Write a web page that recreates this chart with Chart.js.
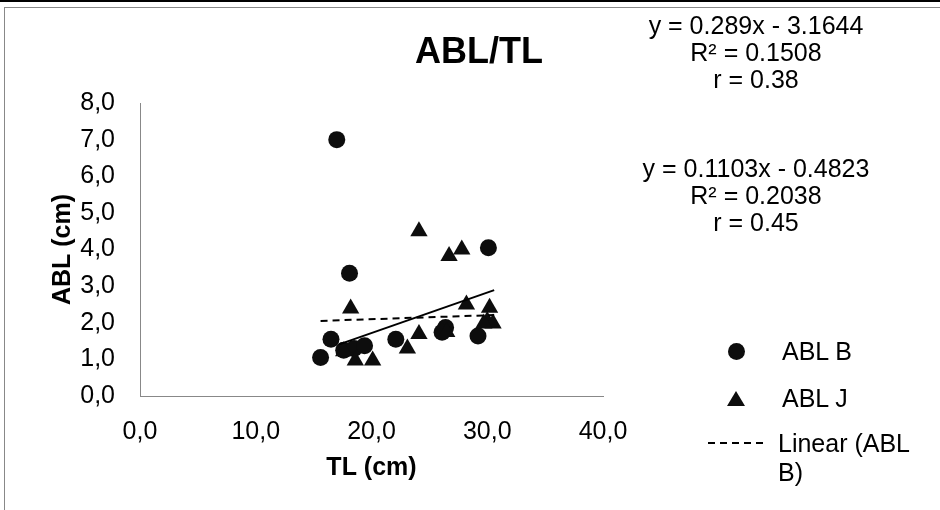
<!DOCTYPE html>
<html>
<head>
<meta charset="utf-8">
<script src="https://cdn.jsdelivr.net/npm/chart.js@4/dist/chart.umd.min.js"></script>
<style>
  body { margin: 0; background: #fff; font-family: "Liberation Sans", Arial, sans-serif; }
  #wrap { position: relative; width: 940px; height: 510px; overflow: hidden; }
  #topline { position: absolute; left: 0; top: 0; width: 940px; height: 2px; background: #000; }
  #frame { position: absolute; left: 4px; top: 7px; width: 960px; height: 520px; border-left: 1px solid #888; border-top: 1px solid #888; }
  canvas { position: absolute; left: 0; top: 0; }
  .txt { position: absolute; color: #000; white-space: nowrap; }
  #title { left: 479px; top: 51px; transform: translate(-50%, -50%); font-size: 36px; font-weight: bold; }
  .eq { position: absolute; left: 756px; transform: translateX(-50%); font-size: 25px; line-height: 27px; text-align: center; white-space: nowrap; }
  .leg { position: absolute; font-size: 25px; line-height: 29px; }
  .dot { position: absolute; width: 17px; height: 17px; border-radius: 50%; background: #0d0d0d; }
  .tri { position: absolute; width: 0; height: 0; border-left: 9px solid transparent; border-right: 9px solid transparent; border-bottom: 15px solid #0d0d0d; }
  .dash { position: absolute; width: 55px; height: 2px; background: repeating-linear-gradient(to right, #000 0 7px, transparent 7px 12px); }
</style>
</head>
<body>
<div id="wrap">
  <div id="frame"></div>
  <div id="topline"></div>
  <canvas id="c" width="940" height="510"></canvas>
  <div class="txt" id="title">ABL/TL</div>
  <div class="eq" style="top:12px">y = 0.289x - 3.1644<br>R² = 0.1508<br>r = 0.38</div>
  <div class="eq" style="top:155px">y = 0.1103x - 0.4823<br>R² = 0.2038<br>r = 0.45</div>
  <div class="dot" style="left:728px; top:343px"></div>
  <div class="leg" style="left:782px; top:337px">ABL B</div>
  <div class="tri" style="left:727px; top:391px"></div>
  <div class="leg" style="left:782px; top:384px">ABL J</div>
  <div class="dash" style="left:708px; top:442px"></div>
  <div class="leg" style="left:778px; top:429px">Linear (ABL<br>B)</div>
</div>
<script>
// ABL B (circles)
let tlB  = [17.0, 18.1, 30.1, 16.5, 15.6, 22.1, 26.4, 26.1, 29.2, 17.6, 18.5, 19.4];
let ablB = [7.0, 3.35, 4.05, 1.55, 1.05, 1.55, 1.87, 1.74, 1.64, 1.25, 1.3, 1.37];
// ABL J (triangles)
let tlJ  = [24.1, 26.7, 27.8, 18.2, 28.2, 30.2, 30.0, 30.5, 29.7, 24.1, 23.1, 20.1, 18.6, 17.6, 26.5];
let ablJ = [4.5, 3.82, 4.0, 2.39, 2.5, 2.41, 2.05, 1.98, 1.98, 1.69, 1.3, 0.97, 0.97, 1.22, 1.75];
// trend lines (end points)
let trendB_tl  = [15.6, 30.6];
let trendB_abl = [2.05, 2.21];
let trendJ_tl  = [17.2, 30.6];
let trendJ_abl = [1.41, 2.89];

function pts(xs, ys) {
	let out = [];
	for (let i = 0; i < xs.length; i++) out.push({x: xs[i], y: ys[i]});
	return out;
}

let fmt = function (v) { return v.toFixed(1).replace('.', ','); };
let tickFont = {family: '"Liberation Sans", Arial, sans-serif', size: 25};
let titleFont = {family: '"Liberation Sans", Arial, sans-serif', size: 25, weight: 'bold'};

new Chart(document.getElementById('c'), {
	type: 'scatter',
	data: {
		datasets: [{
			label: 'Linear (ABL B)',
			type: 'line',
			data: pts(trendB_tl, trendB_abl),
			borderColor: '#000',
			borderWidth: 2,
			borderDash: [7, 5],
			pointRadius: 0,
			fill: false,
			order: 0
		}, {
			label: 'Linear (ABL J)',
			type: 'line',
			data: pts(trendJ_tl, trendJ_abl),
			borderColor: '#000',
			borderWidth: 2,
			pointRadius: 0,
			fill: false,
			order: 0
		}, {
			label: 'ABL B',
			data: pts(tlB, ablB),
			pointStyle: 'circle',
			pointRadius: 8.5,
			backgroundColor: '#0d0d0d',
			borderWidth: 0,
			order: 2
		}, {
			label: 'ABL J',
			data: pts(tlJ, ablJ),
			pointStyle: 'triangle',
			pointRadius: 10,
			backgroundColor: '#0d0d0d',
			borderWidth: 0,
			order: 1
		}]
	},
	options: {
		responsive: false,
		animation: false,
		clip: false,
		layout: {padding: {left: 44, right: 337, top: 103, bottom: 23}},
		plugins: {legend: {display: false}, tooltip: {enabled: false}},
		scales: {
			x: {
				type: 'linear', min: 0, max: 40,
				ticks: {stepSize: 10, color: '#000', font: tickFont, padding: 21, callback: fmt},
				grid: {display: false, drawTicks: false},
				border: {display: true, color: '#888', width: 1},
				title: {display: true, text: 'TL (cm)', color: '#000', font: titleFont, padding: {top: 6, bottom: 4}},
				afterFit: function (s) { s.height = 91; }
			},
			y: {
				type: 'linear', min: 0, max: 8,
				ticks: {stepSize: 1, color: '#000', font: tickFont, padding: 25, callback: fmt},
				grid: {display: false, drawTicks: false},
				border: {display: true, color: '#888', width: 1},
				title: {display: true, text: 'ABL (cm)', color: '#000', font: titleFont, padding: {top: 4, bottom: 4}},
				afterFit: function (s) { s.width = 96; }
			}
		}
	}
});
</script>
</body>
</html>
